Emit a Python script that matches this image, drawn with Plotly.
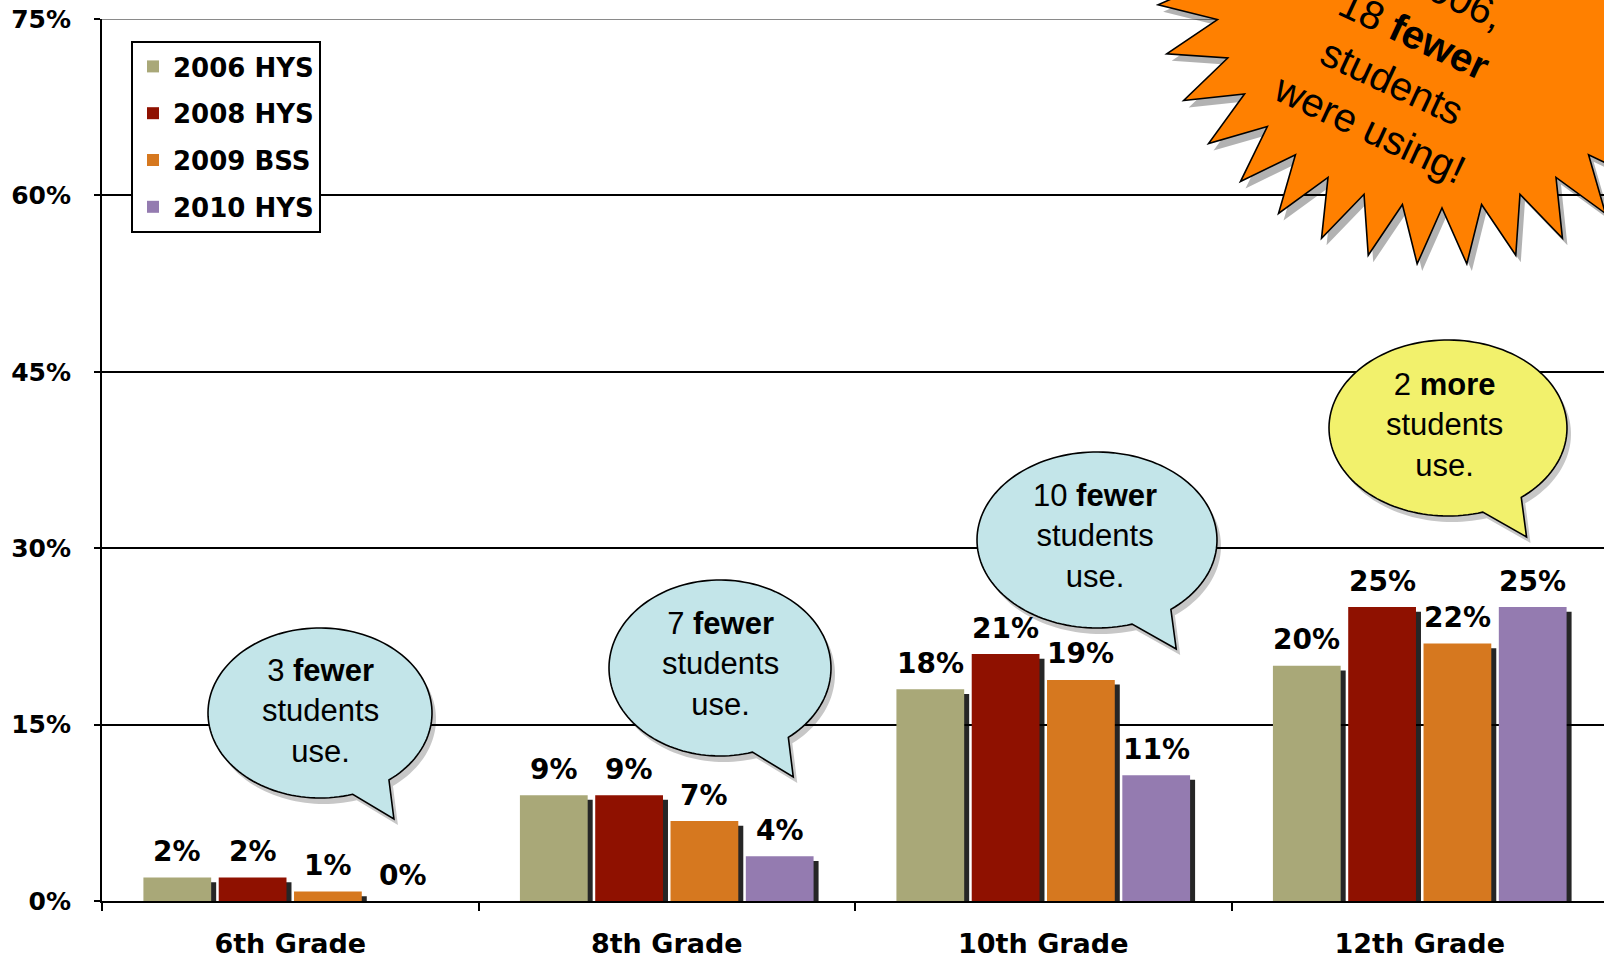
import numpy as np
import plotly.graph_objects as go

# ---------------- data ----------------
grades = ["6th Grade", "8th Grade", "10th Grade", "12th Grade"]
series_names = ["2006 HYS", "2008 HYS", "2009 BSS", "2010 HYS"]
hys_2006 = [2.0, 9.0, 18.0, 20.0]
hys_2008 = [2.0, 9.0, 21.0, 25.0]
bss_2009 = [0.8, 6.8, 18.8, 21.9]
hys_2010 = [0.0, 3.8, 10.7, 25.0]
series_values = [hys_2006, hys_2008, bss_2009, hys_2010]
series_colors = ["#A9A878", "#8F1100", "#D6781F", "#947BB0"]
y_ticks = [0, 15, 30, 45, 60, 75]
y_tick_labels = [f"{v}%" for v in y_ticks]

bubble_texts = [
    "3 <b>fewer</b><br>students<br>use.",
    "7 <b>fewer</b><br>students<br>use.",
    "10 <b>fewer</b><br>students<br>use.",
    "2 <b>more</b><br>students<br>use.",
]
burst_text = "In 2006,<br>18 <b>fewer</b><br>students<br>were using!"

# ---------------- geometry helpers (decoration only) ----------------
W, H = 1604, 959
ML, MR, MT, MB = 102, 0, 19, 58
PW, PH = W - ML - MR, H - MT - MB


def px(x):  # page pixel -> paper x
    return (x - ML) / PW


def py(y):  # page pixel -> paper y
    return (H - MB - y) / PH


def path_from(points, dx=0, dy=0):
    s = "M " + " L ".join(f"{px(x + dx):.5f},{py(y + dy):.5f}" for x, y in points)
    return s + " Z"


def bubble_points(cx, cy, rx, ry):
    a1, a2 = np.deg2rad(73), np.deg2rad(52 + 360)
    th = np.linspace(a1, a2, 140)
    pts = [(cx + rx * np.cos(t), cy + ry * np.sin(t)) for t in th]
    pts.append((cx + 0.66 * rx, cy + ry + 21))
    return pts


def burst_points(cx, cy, R, r, n):
    pts = []
    for k in range(n):
        a_tip = np.deg2rad(85 + k * 360 / n)
        a_val = np.deg2rad(85 + (k + 0.5) * 360 / n)
        pts.append((cx + R * np.cos(a_tip), cy + R * np.sin(a_tip)))
        pts.append((cx + r * np.cos(a_val), cy + r * np.sin(a_val)))
    return pts


# ---------------- figure ----------------
fig = go.Figure()
bar_w = 0.18
offsets = [-0.39 + 0.2 * i for i in range(4)]
shadow_dx = 5 / 376.5

# shadows
for i, vals in enumerate(series_values):
    fig.add_trace(go.Bar(
        x=grades, y=[max(v - 0.4, 0) for v in vals],
        offset=offsets[i] + shadow_dx, width=bar_w,
        marker=dict(color="rgba(0,0,0,0.85)", line=dict(width=0)),
        showlegend=False, hoverinfo="skip", legendgroup="shadow",
    ))
# bars
for i, vals in enumerate(series_values):
    fig.add_trace(go.Bar(
        x=grades, y=vals, name=series_names[i],
        offset=offsets[i], width=bar_w,
        marker=dict(color=series_colors[i], line=dict(width=0)),
        legendgroup=series_names[i],
    ))

annotations = []
for i, vals in enumerate(series_values):
    for j, v in enumerate(vals):
        annotations.append(dict(
            x=j + offsets[i] + bar_w / 2, y=v, xref="x", yref="y",
            text=f"{round(v)}%", showarrow=False, yanchor="middle", yshift=26,
            font=dict(family="DejaVu Sans", size=28, color="black", weight="bold"),
        ))

shapes = []
# gray top gridline
shapes.append(dict(type="line", xref="paper", yref="y", x0=0, x1=1, y0=75, y1=75,
                   line=dict(color="#8a8a8a", width=2), layer="above"))

bubbles = [
    (320, 713, 112, 85, "#C3E5E9", 320, 711),
    (720, 668, 111, 88, "#C3E5E9", 720, 664),
    (1097, 540, 120, 88, "#C3E5E9", 1095, 536),
    (1448, 428, 119, 88, "#F2F16C", 1444, 425),
]
for (cx, cy, rx, ry, col, tx, ty), txt in zip(bubbles, bubble_texts):
    pts = bubble_points(cx, cy, rx, ry)
    shapes.append(dict(type="path", xref="paper", yref="paper", path=path_from(pts, 4, 6),
                       fillcolor="rgba(0,0,0,0.22)", line=dict(width=0), layer="above"))
    shapes.append(dict(type="path", xref="paper", yref="paper", path=path_from(pts),
                       fillcolor=col, line=dict(color="black", width=1.6), layer="above"))
    annotations.append(dict(
        x=px(tx), y=py(ty), xref="paper", yref="paper", text=txt, showarrow=False,
        xanchor="center", yanchor="middle",
        font=dict(family="Liberation Sans", size=31, color="black"),
    ))

# starburst
bpts = burst_points(1442, -20, 285, 228, 36)
shapes.append(dict(type="path", xref="paper", yref="paper", path=path_from(bpts, 5, 7),
                   fillcolor="rgba(0,0,0,0.3)", line=dict(width=0), layer="above"))
shapes.append(dict(type="path", xref="paper", yref="paper", path=path_from(bpts),
                   fillcolor="#FF8000", line=dict(color="black", width=1.6), layer="above"))
annotations.append(dict(
    x=px(1403), y=py(58), xref="paper", yref="paper", text=burst_text, showarrow=False,
    xanchor="center", yanchor="middle", textangle=25,
    font=dict(family="Liberation Sans", size=40, color="black"),
))

fig.update_layout(
    width=W, height=H,
    margin=dict(l=ML, r=MR, t=MT, b=MB, pad=0, autoexpand=False),
    barmode="overlay",
    plot_bgcolor="white", paper_bgcolor="white",
    showlegend=True,
    hovermode=False,
    legend=dict(
        x=px(131), y=py(41), xanchor="left", yanchor="top",
        bgcolor="white", bordercolor="black", borderwidth=2,
        font=dict(family="DejaVu Sans", size=26, color="black", weight="bold"),
        tracegroupgap=10, traceorder="grouped",
    ),
    xaxis=dict(
        type="category", categoryorder="array", categoryarray=grades,
        range=[-0.5, -0.5 + PW / 376.5], automargin=False,
        showline=True, linecolor="black", linewidth=2,
        ticks="outside", tickson="boundaries", ticklen=8, tickwidth=2, tickcolor="black",
        showgrid=False, ticklabelstandoff=18,
        tickfont=dict(family="DejaVu Sans", size=27, color="black", weight="bold"),
    ),
    yaxis=dict(
        range=[0, 75], tickmode="array", tickvals=y_ticks, ticktext=y_tick_labels,
        automargin=False,
        showline=True, linecolor="black", linewidth=2,
        ticks="outside", ticklen=6, tickwidth=2, tickcolor="black",
        showgrid=True, gridcolor="black", gridwidth=1.5, zeroline=False,
        ticklabelstandoff=18,
        tickfont=dict(family="DejaVu Sans", size=25, color="black", weight="bold"),
    ),
    shapes=shapes,
    annotations=annotations,
)

fig.write_html(
    "out.html",
    config={"displayModeBar": False},
    post_script="document.body.style.margin='0';document.body.style.overflow='hidden';",
)
